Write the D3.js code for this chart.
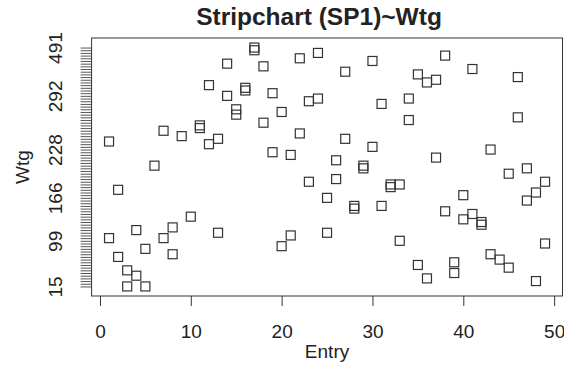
<!DOCTYPE html>
<html>
<head>
<meta charset="utf-8">
<script src="https://cdn.jsdelivr.net/npm/d3@7"></script>
<style>
  body { margin: 0; background: #fff; }
  svg text { font-family: "Liberation Sans", Arial, sans-serif; fill: #222; }
</style>
</head>
<body>
<div id="chart"></div>
<script>
// factor levels of Wtg (sorted), only some of them get a printed label
const wtgLevels = [15, 19, 24, 28, 33, 37, 41, 46, 50, 54, 59, 63, 68, 72, 78, 84, 91, 99,
  103, 108, 112, 117, 121, 125, 129, 134, 138, 142, 146, 150, 154, 158, 162, 166,
  169, 172, 176, 179, 182, 186, 189, 193, 196, 199, 203, 206, 210, 213, 217, 220, 224, 228,
  231, 234, 238, 241, 244, 248, 251, 254, 258, 261, 264, 268, 271, 274, 277, 280, 283, 286, 289, 292,
  301, 310, 318, 327, 336, 345, 354, 363, 372, 381, 392, 403, 414, 425, 437, 451, 470, 491];
const yLabels = [15, 99, 166, 228, 292, 491];
const xTicks = [0, 10, 20, 30, 40, 50];

const entry = [1, 1, 2, 2, 3, 3, 4, 4, 5, 5, 6, 7, 7, 8, 8, 9, 10, 11, 11, 12, 12,
  13, 13, 14, 14, 15, 15, 16, 16, 17, 17, 18, 18, 19, 19, 20, 20, 21, 21, 22, 22,
  23, 23, 24, 24, 25, 25, 26, 26, 27, 27, 28, 28, 29, 29, 30, 30, 31, 31, 32, 32,
  33, 33, 34, 34, 35, 35, 36, 36, 37, 37, 38, 38, 39, 39, 40, 40, 41, 41, 42, 42,
  43, 43, 44, 45, 45, 46, 46, 47, 47, 48, 48, 49, 49];
const wtg = [238, 103, 176, 63, 41, 15, 117, 33, 78, 15, 206, 251, 103, 121, 68, 244, 138, 258, 254, 327, 234,
  241, 112, 403, 292, 277, 271, 318, 310, 491, 470, 392, 261, 301, 224, 274, 84, 220, 108, 425, 248,
  286, 186, 451, 289, 166, 112, 213, 189, 372, 241, 154, 150, 206, 203, 414, 231, 283, 154, 182, 179,
  182, 99, 289, 264, 363, 50, 336, 28, 345, 217, 437, 146, 54, 37, 169, 134, 381, 142, 129, 125,
  228, 68, 59, 196, 46, 354, 268, 203, 162, 172, 24, 186, 91];

const points = entry.map((e, i) => ({entry: e, wtg: wtg[i]}));

const W = 564, H = 368;
const box = {left: 91.6, right: 562.5, top: 38, bottom: 296};
const fs = '19px';

const svg = d3.select('#chart')
  .append('svg')
  .attr('width', W)
  .attr('height', H);

svg.append('rect')
  .attr('width', W)
  .attr('height', H)
  .attr('fill', '#fff');

// R pads the data range by 4% on each side
const x = d3.scaleLinear()
  .domain([1 - 48 * 0.04, 49 + 48 * 0.04])
  .range([box.left, box.right]);

const yPad = (box.bottom - box.top) * 0.04 / 1.08;
const y = d3.scalePoint()
  .domain(wtgLevels)
  .range([box.bottom - yPad, box.top + yPad]);

// x axis
const xAxis = svg.append('g')
  .attr('transform', 'translate(0,' + box.bottom + ')')
  .call(d3.axisBottom(x).tickValues(xTicks).tickSize(10));
xAxis.select('.domain').remove();
xAxis.selectAll('line').attr('stroke', '#333').attr('stroke-width', 1);
xAxis.selectAll('text')
  .attr('dy', null)
  .attr('y', 42)
  .style('font-size', fs)
  .attr('fill', '#222');

// y axis, one tick per factor level
const yAxis = svg.append('g')
  .attr('transform', 'translate(' + box.left + ',0)')
  .call(d3.axisLeft(y)
    .tickSize(11)
    .tickFormat(d => yLabels.includes(d) ? d : ''));
yAxis.select('.domain').remove();
yAxis.selectAll('line').attr('stroke', '#444').attr('stroke-width', 0.9);
yAxis.selectAll('text')
  .attr('x', 0)
  .attr('y', -29.6)
  .attr('dy', null)
  .attr('transform', 'rotate(-90)')
  .attr('text-anchor', 'middle')
  .style('font-size', fs)
  .attr('fill', '#222');

// plot box
svg.append('rect')
  .attr('x', box.left)
  .attr('y', box.top)
  .attr('width', box.right - box.left)
  .attr('height', box.bottom - box.top)
  .attr('fill', 'none')
  .attr('stroke', '#333')
  .attr('stroke-width', 1);

// points (pch = 0)
const s = 9;
svg.append('g')
  .selectAll('rect')
  .data(points)
  .join('rect')
  .attr('x', d => x(d.entry) - s / 2)
  .attr('y', d => y(d.wtg) - s / 2)
  .attr('width', s)
  .attr('height', s)
  .attr('fill', 'none')
  .attr('stroke', '#333')
  .attr('stroke-width', 1.2);

// titles
svg.append('text')
  .attr('x', 319)
  .attr('y', 25)
  .attr('text-anchor', 'middle')
  .style('font-size', '24.5px')
  .style('font-weight', 'bold')
  .text('Stripchart (SP1)~Wtg');

svg.append('text')
  .attr('x', (box.left + box.right) / 2)
  .attr('y', 358)
  .attr('text-anchor', 'middle')
  .style('font-size', fs)
  .text('Entry');

svg.append('text')
  .attr('transform', 'translate(28.5,' + (box.top + box.bottom) / 2 + ') rotate(-90)')
  .attr('text-anchor', 'middle')
  .style('font-size', fs)
  .text('Wtg');
</script>
</body>
</html>
